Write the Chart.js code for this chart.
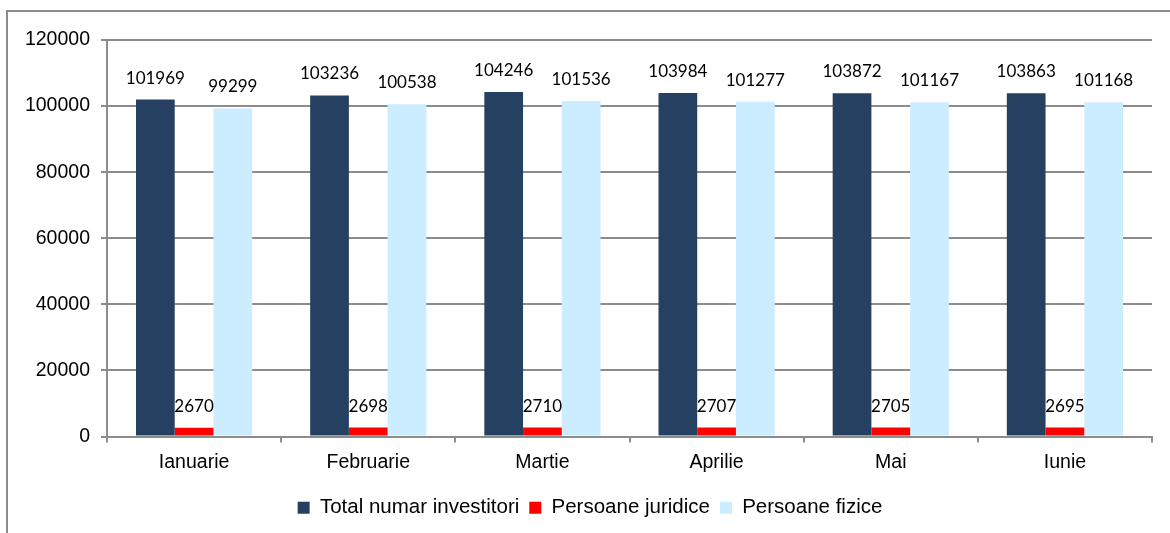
<!DOCTYPE html>
<html>
<head>
<meta charset="utf-8">
<script src="https://cdn.jsdelivr.net/npm/chart.js@4"></script>
<style>
  html, body { margin: 0; padding: 0; background: #fff; overflow: hidden; }
  #wrap { position: relative; width: 1170px; height: 533px; }
  #frame { position: absolute; left: 6px; top: 10px; width: 1200px; height: 600px;
           border-left: 2px solid #8c8c8c; border-top: 2px solid #8c8c8c; }
  #myChart { position: absolute; left: 0; top: 0; }
</style>
</head>
<body>
<div id="wrap">
  <div id="frame"></div>
  <canvas id="myChart" width="1170" height="533"></canvas>
</div>
<script>
// Data
let months = ['Ianuarie', 'Februarie', 'Martie', 'Aprilie', 'Mai', 'Iunie'];
let totalInvestitori = [101969, 103236, 104246, 103984, 103872, 103863];
let persoaneJuridice = [2670, 2698, 2710, 2707, 2705, 2695];
let persoaneFizice = [99299, 100538, 101536, 101277, 101167, 101168];
let yTicks = [0, 20000, 40000, 60000, 80000, 100000, 120000];

let axisFont = { family: '"Liberation Sans", Arial, sans-serif', size: 19.5 };
let gridColor = '#8c8c8c';

// Draw the value on top of every bar
let valueLabels = {
    id: 'valueLabels',
    afterDatasetsDraw(chart) {
        let ctx = chart.ctx;
        ctx.save();
        ctx.font = '17px Lato, "Open Sans", sans-serif';
        ctx.fillStyle = '#000';
        ctx.textAlign = 'center';
        ctx.textBaseline = 'alphabetic';
        chart.data.datasets.forEach((ds, i) => {
            chart.getDatasetMeta(i).data.forEach((bar, j) => {
                ctx.fillText(String(ds.data[j]), bar.x, bar.y - 16);
            });
        });
        ctx.restore();
    }
};

// Legend in the original sits a bit right of the canvas centre
let legendShift = {
    id: 'legendShift',
    afterLayout(chart) {
        if (chart.legend) {
            chart.legend.left += 14;
            chart.legend.right += 14;
        }
    }
};

let canvas = document.getElementById('myChart').getContext('2d');

new Chart(canvas, {
    type: 'bar',
    data: {
        labels: months,
        datasets: [
            { label: 'Total numar investitori', backgroundColor: '#254061', data: totalInvestitori },
            { label: 'Persoane juridice', backgroundColor: '#ff0000', data: persoaneJuridice },
            { label: 'Persoane fizice', backgroundColor: '#ccecff', data: persoaneFizice }
        ]
    },
    options: {
        responsive: false,
        animation: false,
        datasets: { bar: { barPercentage: 1, categoryPercentage: 0.667 } },
        layout: { padding: { left: 0, right: 18, top: 40, bottom: 5 } },
        plugins: {
            tooltip: { enabled: false },
            legend: {
                position: 'bottom',
                labels: {
                    font: { family: '"Liberation Sans", Arial, sans-serif', size: 20.5 },
                    color: '#000',
                    boxWidth: 12,
                    boxHeight: 12,
                    padding: 10
                }
            }
        },
        scales: {
            x: {
                offset: true,
                grid: { offset: true, drawOnChartArea: false, color: gridColor, lineWidth: 2, tickLength: 6 },
                border: { color: gridColor, width: 2 },
                ticks: { font: axisFont, color: '#000', padding: 8, maxRotation: 0 },
                afterFit(scale) { scale.height = 51; }
            },
            y: {
                min: 0,
                max: 120000,
                grid: { color: gridColor, lineWidth: 2, tickLength: 6 },
                border: { color: gridColor, width: 2 },
                afterBuildTicks(scale) { scale.ticks = yTicks.map(v => ({ value: v })); },
                ticks: {
                    font: axisFont,
                    color: '#000',
                    padding: 11,
                    callback: value => String(value)
                },
                afterFit(scale) { scale.width = 107; }
            }
        }
    },
    plugins: [valueLabels, legendShift]
});
</script>
</body>
</html>
